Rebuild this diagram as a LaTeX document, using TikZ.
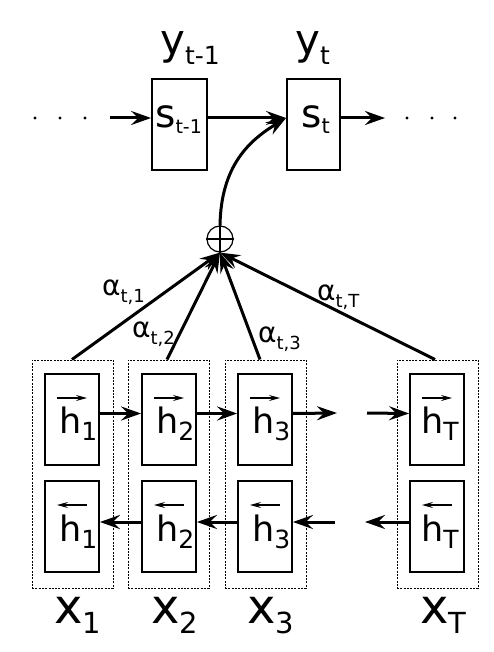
\documentclass[tikz,border=0pt]{standalone}
\usepackage{fontspec}
\setmainfont{DejaVu Sans}
\usetikzlibrary{arrows.meta}
\newcommand{\lbl}[5]{{\fontsize{#1}{#1}\selectfont #2}\raisebox{-#5}{\fontsize{#3}{#3}\selectfont #4}}
\tikzset{
  cell/.style={draw, line width=1.8pt, minimum width=54pt, minimum height=91pt, inner sep=0pt},
  grp/.style={draw, line width=1pt, dash pattern=on 2pt off 1.3pt, minimum width=81pt, minimum height=228pt, inner sep=0pt},
  arr/.style={-{Stealth[length=20pt,width=14pt,inset=7pt]}, line width=3pt},
  vec/.style={-{Stealth[length=11pt,width=6pt,inset=4pt]}, line width=1.3pt},
  txt/.style={inner sep=0pt, anchor=base west},
}
\begin{document}
\begin{tikzpicture}[x=1pt,y=-1pt]
\useasboundingbox (0,0) rectangle (494,652);

% decoder states
\node[cell, minimum width=55pt] (s1) at (179.5,124.5) {};
\node[cell, minimum width=53pt] (s2) at (313.5,124.5) {};
\node[txt] (s1t) at (155,128) {\lbl{39pt}{s}{19pt}{t-1}{6pt}};
\node[txt] (s2t) at (301,128) {\lbl{39pt}{s}{21pt}{t}{6pt}};
\node[txt] (y1t) at (160,55) {\lbl{42pt}{y}{25pt}{t-1}{10pt}};
\node[txt] (y2t) at (295,55) {\lbl{42pt}{y}{25pt}{t}{10pt}};

\coordinate (inL) at (110,118);
\coordinate (outR) at (385,118);
\foreach \px in {35,60,85,407,432,455} \fill (\px,118) circle (1.6pt);
\draw[arr] (inL) -- ([yshift=6.5pt]s1.west);
\draw[arr] ([yshift=6.5pt]s1.east) -- ([yshift=6.5pt]s2.west);
\draw[arr] ([yshift=6.5pt]s2.east) -- (outR);

% encoder groups
\foreach \n/\cx in {1/72.5,2/168.5,3/265.5,T/437.5}{
  \node[grp] (g\n) at (\cx,474) {};
}
\foreach \n/\cx in {1/72,2/169,3/265,T/437}{
  \node[cell] (f\n) at (\cx,419.5) {};
  \node[cell] (b\n) at (\cx,526.5) {};
  \draw[vec] ([xshift=-15pt,yshift=21.5pt]f\n.center) -- ([xshift=15pt,yshift=21.5pt]f\n.center);
  \draw[vec] ([xshift=15pt,yshift=21.5pt]b\n.center) -- ([xshift=-15pt,yshift=21.5pt]b\n.center);
}
\foreach \n/\lx in {1/59,2/156,3/252,T/421}{
  \node[txt] (ft\n) at (\lx,433) {\lbl{35pt}{h}{25pt}{\n}{7pt}};
  \node[txt] (bt\n) at (\lx,541) {\lbl{35pt}{h}{25pt}{\n}{7pt}};
}
\foreach \n/\lx in {1/54,2/151,3/247,T/420}{
  \node[txt] (xt\n) at (\lx,623) {\lbl{48pt}{x}{29pt}{\n}{10pt}};
}

% recurrent arrows
\coordinate (fo) at (337,413);
\coordinate (fi) at (367,413);
\coordinate (bi) at (335,522);
\coordinate (bo) at (365,522);
\draw[arr] ([yshift=6pt]f1.east) -- ([yshift=6pt]f2.west);
\draw[arr] ([yshift=6pt]f2.east) -- ([yshift=6pt]f3.west);
\draw[arr] ([yshift=6pt]f3.east) -- (fo);
\draw[arr] (fi) -- ([yshift=6pt]fT.west);
\draw[arr] ([yshift=4.5pt]b2.west) -- ([yshift=4.5pt]b1.east);
\draw[arr] ([yshift=4.5pt]b3.west) -- ([yshift=4.5pt]b2.east);
\draw[arr] (bi) -- ([yshift=4.5pt]b3.east);
\draw[arr] ([yshift=4.5pt]bT.west) -- (bo);

% attention sum
\node[circle, draw, line width=1.2pt, minimum size=26pt, inner sep=0pt] (op) at (220,239) {};
\draw[line width=2.6pt] (op.north) -- (op.south) (op.west) -- (op.east);
\draw[arr] ([xshift=-0.5pt]g1.north) -- (op.south);
\draw[arr] ([xshift=-1.5pt]g2.north) -- (op.south);
\draw[arr] ([xshift=-5.5pt]g3.north) -- (op.south);
\draw[arr] ([xshift=-2.5pt]gT.north) -- (op.south);
\draw[arr] (op.north) .. controls (221,165) and (250,140) .. ([yshift=6.5pt]s2.west);

\node[txt] (a1) at (102,295) {\lbl{28pt}{α}{18pt}{t,1}{7pt}};
\node[txt] (a2) at (132,337) {\lbl{28pt}{α}{18pt}{t,2}{7pt}};
\node[txt] (a3) at (258,342) {\lbl{28pt}{α}{18pt}{t,3}{7pt}};
\node[txt] (aT) at (317,300) {\lbl{28pt}{α}{18pt}{t,T}{7pt}};
\end{tikzpicture}
\end{document}
